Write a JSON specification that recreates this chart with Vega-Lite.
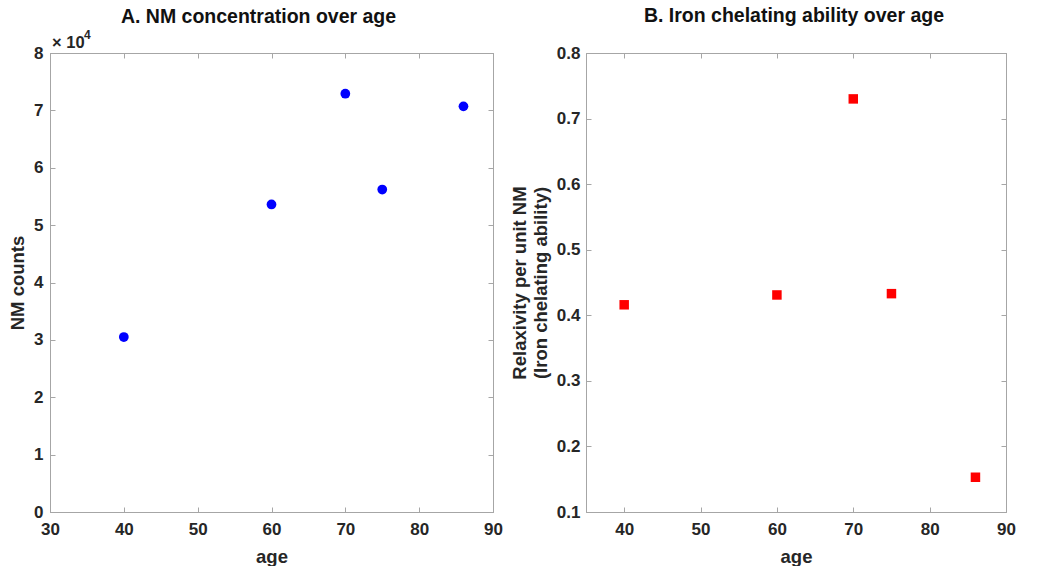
{
  "$schema": "https://vega.github.io/schema/vega-lite/v6.json",
  "padding": {"left": 8, "top": 5, "right": 5, "bottom": 0},
  "background": "white",
  "spacing": 7,
  "datasets": {
    "nm": [
      {"age": 40, "nm": 30500},
      {"age": 60, "nm": 53600},
      {"age": 70, "nm": 72900},
      {"age": 75, "nm": 56200},
      {"age": 86, "nm": 70700}
    ],
    "relax": [
      {"age": 40, "r": 0.416},
      {"age": 60, "r": 0.431},
      {"age": 70, "r": 0.730},
      {"age": 75, "r": 0.433},
      {"age": 86, "r": 0.153}
    ],
    "exp": [{"age": 30, "nm": 80000, "base": "× 10", "sup": "4"}]
  },
  "hconcat": [
    {
      "width": 443,
      "height": 459,
      "title": {"text": "A. NM concentration over age", "anchor": "middle", "offset": 2, "dx": -13},
      "layer": [
        {
          "data": {"name": "nm"},
          "mark": {"type": "point", "shape": "circle", "filled": true, "size": 95, "color": "#0000ff", "opacity": 1},
          "encoding": {
            "x": {"field": "age", "type": "quantitative", "scale": {"domain": [30, 90], "nice": false, "zero": false},
                  "axis": {"orient": "bottom", "values": [30, 40, 50, 60, 70, 80, 90], "format": "d", "title": "age", "labelPadding": 14, "titlePadding": 10}},
            "y": {"field": "nm", "type": "quantitative", "scale": {"domain": [0, 80000], "nice": false},
                  "axis": {"orient": "left", "values": [0, 10000, 20000, 30000, 40000, 50000, 60000, 70000, 80000],
                           "labelExpr": "format(datum.value / 10000, 'd')", "title": "NM counts", "labelPadding": 12, "titlePadding": 6}}
          }
        },
        {
          "data": {"name": "nm"},
          "mark": {"type": "point", "opacity": 0},
          "encoding": {
            "x": {"field": "age", "type": "quantitative",
                  "axis": {"orient": "top", "values": [30, 40, 50, 60, 70, 80, 90], "labels": false, "title": null}},
            "y": {"field": "nm", "type": "quantitative",
                  "axis": {"orient": "right", "values": [0, 10000, 20000, 30000, 40000, 50000, 60000, 70000, 80000], "labels": false, "title": null}}
          }
        },
        {
          "data": {"name": "exp"},
          "mark": {"type": "text", "align": "left", "baseline": "alphabetic", "dy": -5, "dx": 2, "fontSize": 16.5, "fontWeight": "bold", "color": "#262626"},
          "encoding": {
            "x": {"field": "age", "type": "quantitative", "axis": null},
            "y": {"field": "nm", "type": "quantitative", "axis": null},
            "text": {"field": "base"}
          }
        },
        {
          "data": {"name": "exp"},
          "mark": {"type": "text", "align": "left", "baseline": "alphabetic", "dy": -14, "dx": 34, "fontSize": 12, "fontWeight": "bold", "color": "#262626"},
          "encoding": {
            "x": {"field": "age", "type": "quantitative", "axis": null},
            "y": {"field": "nm", "type": "quantitative", "axis": null},
            "text": {"field": "sup"}
          }
        }
      ],
      "resolve": {"axis": {"x": "independent", "y": "independent"}}
    },
    {
      "width": 420,
      "height": 459,
      "title": {"text": "B. Iron chelating ability over age", "anchor": "middle", "offset": 18, "dx": -2},
      "layer": [
        {
          "data": {"name": "relax"},
          "mark": {"type": "point", "shape": "square", "filled": true, "size": 90, "color": "#ff0000", "opacity": 1},
          "encoding": {
            "x": {"field": "age", "type": "quantitative", "scale": {"domain": [35, 90], "nice": false, "zero": false},
                  "axis": {"orient": "bottom", "values": [40, 50, 60, 70, 80, 90], "format": "d", "title": "age", "labelPadding": 14, "titlePadding": 10}},
            "y": {"field": "r", "type": "quantitative", "scale": {"domain": [0.1, 0.8], "nice": false, "zero": false},
                  "axis": {"orient": "left", "values": [0.1, 0.2, 0.3, 0.4, 0.5, 0.6, 0.7, 0.8], "format": ".1f",
                           "title": ["Relaxivity per unit NM", "(Iron chelating ability)"], "labelPadding": 11, "titlePadding": 6}}
          }
        },
        {
          "data": {"name": "relax"},
          "mark": {"type": "point", "opacity": 0},
          "encoding": {
            "x": {"field": "age", "type": "quantitative",
                  "axis": {"orient": "top", "values": [40, 50, 60, 70, 80, 90], "labels": false, "title": null}},
            "y": {"field": "r", "type": "quantitative",
                  "axis": {"orient": "right", "values": [0.1, 0.2, 0.3, 0.4, 0.5, 0.6, 0.7, 0.8], "labels": false, "title": null}}
          }
        }
      ],
      "resolve": {"axis": {"x": "independent", "y": "independent"}}
    }
  ],
  "config": {
    "font": "Liberation Sans",
    "view": {"stroke": "#a6a6a6", "strokeWidth": 1},
    "title": {"fontSize": 19.5, "fontWeight": "bold", "color": "#111111", "font": "Liberation Sans"},
    "axis": {
      "grid": false,
      "domainColor": "#a6a6a6",
      "tickColor": "#a6a6a6",
      "tickSize": -5,
      "labelFontSize": 17,
      "labelFontWeight": "bold",
      "labelColor": "#262626",
      "titleFontSize": 18.5,
      "titleFontWeight": "bold",
      "titleColor": "#262626",
      "labelFlush": false,
      "labelOverlap": false
    }
  }
}
